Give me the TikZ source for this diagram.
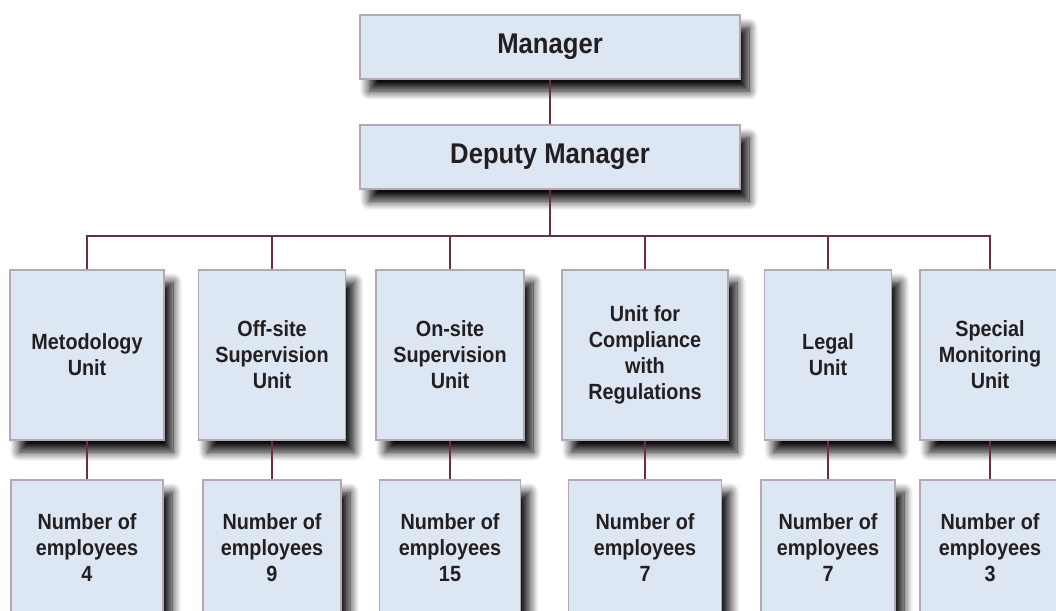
\documentclass[tikz,border=0pt]{standalone}
\usepackage{fontspec}
\setmainfont{Liberation Sans}[FakeStretch=0.9]
\usetikzlibrary{shadows.blur}
\definecolor{boxfill}{HTML}{DDE6F3}
\definecolor{boxline}{HTML}{B5A7B6}
\definecolor{linkcol}{HTML}{6A2E48}
\definecolor{txt}{HTML}{231F20}
\tikzset{
  box/.style={draw=boxline, line width=1.6pt, fill=boxfill, text=txt, align=center, inner sep=0pt,
    blur shadow={shadow xshift=9pt, shadow yshift=-12pt, shadow blur radius=9pt, shadow blur steps=10, shadow opacity=95},
    font=\bfseries\fontsize{22}{26}\selectfont},
  head/.style={box, minimum width=380pt, minimum height=64pt, font=\bfseries\fontsize{28.5}{32}\selectfont},
  unitbox/.style={box, minimum height=170pt},
  numbox/.style={box, minimum height=136pt},
  link/.style={draw=linkcol, line width=2pt}
}
\begin{document}
\begin{tikzpicture}[x=1pt,y=-1pt]
      \useasboundingbox (0,0) rectangle (1056,610);
      \node [head] (mgr) at (550,47) {Manager};
      \node [head] (dep) at (550,157) {Deputy Manager};
      \coordinate (bus) at (550,236);
      \node [unitbox, minimum width=154pt] (u1) at (87,355) {Metodology\\Unit};
      \node [unitbox, minimum width=147pt] (u2) at (272,355) {Off-site\\Supervision\\Unit};
      \node [unitbox, minimum width=148pt] (u3) at (450,355) {On-site\\Supervision\\Unit};
      \node [unitbox, minimum width=166pt] (u4) at (645,355) {Unit for\\Compliance\\with\\Regulations};
      \node [unitbox, minimum width=127pt] (u5) at (828,355) {Legal\\Unit};
      \node [unitbox, minimum width=140pt] (u6) at (990,355) {Special\\Monitoring\\Unit};
      \node [numbox, minimum width=152pt] (n1) at (87,548) {Number of\\employees\\4};
      \node [numbox, minimum width=138pt] (n2) at (272,548) {Number of\\employees\\9};
      \node [numbox, minimum width=141pt] (n3) at (450,548) {Number of\\employees\\15};
      \node [numbox, minimum width=153pt] (n4) at (645,548) {Number of\\employees\\7};
      \node [numbox, minimum width=134pt] (n5) at (828,548) {Number of\\employees\\7};
      \node [numbox, minimum width=140pt] (n6) at (990,548) {Number of\\employees\\3};
      \draw [link] (mgr) -- (dep);
      \draw [link] (dep) -- (bus);
      \draw [link] (u1.north) |- (bus);
      \draw [link] (u2.north) |- (bus);
      \draw [link] (u3.north) |- (bus);
      \draw [link] (u4.north) |- (bus);
      \draw [link] (u5.north) |- (bus);
      \draw [link] (u6.north) |- (bus);
      \draw [link] (u1) -- (n1);
      \draw [link] (u2) -- (n2);
      \draw [link] (u3) -- (n3);
      \draw [link] (u4) -- (n4);
      \draw [link] (u5) -- (n5);
      \draw [link] (u6) -- (n6);
\end{tikzpicture}
\end{document}
